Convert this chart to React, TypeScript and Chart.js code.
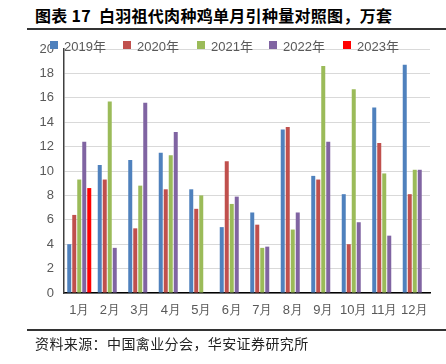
import React, { useEffect, useRef } from "react";
import { Chart, registerables } from "chart.js";
Chart.register(...registerables);

const months = ["1月", "2月", "3月", "4月", "5月", "6月", "7月", "8月", "9月", "10月", "11月", "12月"];
const legendLabels = ["2019年", "2020年", "2021年", "2022年", "2023年"];
const colors = ["#4F81BD", "#C0504D", "#9BBB59", "#8064A2", "#FF0000"];
const s2019 = [4.0, 10.5, 10.9, 11.5, 8.5, 5.4, 6.6, 13.4, 9.6, 8.1, 15.2, 18.7];
const s2020 = [6.4, 9.3, 5.3, 8.5, 6.9, 10.8, 5.6, 13.6, 9.3, 4.0, 12.3, 8.1];
const s2021 = [9.3, 15.7, 8.8, 11.3, 8.0, 7.3, 3.7, 5.2, 18.6, 16.7, 9.8, 10.1];
const s2022 = [12.4, 3.7, 15.6, 13.2, null, 7.9, 3.8, 6.6, 12.4, 5.8, 4.7, 10.1];
const s2023 = [8.6, null, null, null, null, null, null, null, null, null, null, null];
const yTicks = [0, 2, 4, 6, 8, 10, 12, 14, 16, 18, 20];

const legendX = [50, 123, 197, 269, 343];

export default function App() {
  const ref = useRef<HTMLCanvasElement>(null);
  useEffect(() => {
    const all = [s2019, s2020, s2021, s2022, s2023];
    const chart = new Chart(ref.current!, {
      type: "bar",
      data: {
        labels: months,
        datasets: all.map((d, i) => ({
          label: legendLabels[i],
          data: d,
          backgroundColor: colors[i],
          borderWidth: 0,
          barPercentage: 0.8,
          categoryPercentage: 0.82,
        })),
      },
      options: {
        responsive: false,
        animation: false,
        layout: { padding: { left: 0, right: 16, top: 49, bottom: 35 } },
        plugins: { legend: { display: false }, tooltip: { enabled: false } },
        scales: {
          x: {
            grid: { display: false, drawTicks: false },
            border: { display: true, color: "#000000", width: 1.5 },
            ticks: {
              padding: 10,
              color: "#595959",
              font: { size: 13, family: "Liberation Sans" },
              maxRotation: 0,
              autoSkip: false,
            },
            afterFit: (s: any) => {
              s.height = 36;
            },
          },
          y: {
            min: yTicks[0],
            max: yTicks[yTicks.length - 1],
            afterBuildTicks: (s: any) => {
              s.ticks = yTicks.map((v) => ({ value: v }));
            },
            grid: { color: "#D9D9D9", drawTicks: false, lineWidth: 1 },
            border: { display: true, color: "#404040", width: 1.5 },
            ticks: {
              padding: 10,
              color: "#595959",
              font: { size: 13, family: "Liberation Sans" },
            },
            afterFit: (s: any) => {
              s.width = 64;
            },
          },
        },
      },
    });
    return () => chart.destroy();
  }, []);

  return (
    <div style={{ position: "absolute", left: 0, top: 0, width: 446, height: 364, background: "#fff", overflow: "hidden" }}>
      <div
        style={{
          position: "absolute",
          left: 35,
          top: 5,
          fontFamily: "'Noto Sans CJK SC', sans-serif",
          fontWeight: 700,
          fontSize: 16,
          lineHeight: "20px",
          letterSpacing: 0.3,
          color: "#000",
          whiteSpace: "pre",
        }}
      >
        图表 17  白羽祖代肉种鸡单月引种量对照图，万套
      </div>
      <div style={{ position: "absolute", left: 27, right: 0, top: 28, height: 2, background: "#333" }} />
      <canvas ref={ref} width={446} height={364} style={{ position: "absolute", left: 0, top: 0 }} />
      {legendLabels.map((l, i) => (
        <div
          key={l}
          style={{
            position: "absolute",
            left: legendX[i],
            top: 37,
            height: 16,
            display: "flex",
            alignItems: "center",
            whiteSpace: "nowrap",
            fontFamily: "'Liberation Sans', 'Noto Sans CJK SC', sans-serif",
            fontSize: 13,
            color: "#595959",
          }}
        >
          <span style={{ display: "inline-block", width: 8, height: 8, background: colors[i], marginRight: 6 }} />
          {l}
        </div>
      ))}
      <div style={{ position: "absolute", left: 27, right: 0, top: 329, height: 2, background: "#333" }} />
      <div
        style={{
          position: "absolute",
          left: 35,
          top: 334,
          fontFamily: "'Noto Sans CJK SC', sans-serif",
          fontSize: 14,
          lineHeight: "18px",
          letterSpacing: 0.4,
          color: "#222",
          whiteSpace: "nowrap",
        }}
      >
        资料来源：中国禽业分会，华安证券研究所
      </div>
    </div>
  );
}
